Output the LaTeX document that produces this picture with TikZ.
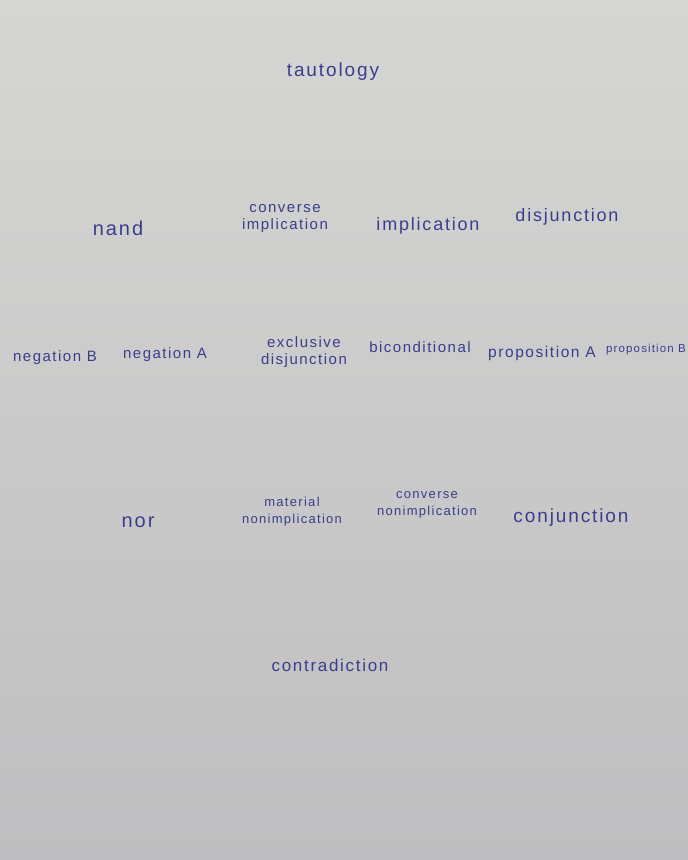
\documentclass[tikz,border=0pt]{standalone}
\usepackage{fontspec}
\setmainfont{Liberation Sans}[LetterSpace=10]
\definecolor{ink}{RGB}{58,62,140}
\definecolor{paperA}{RGB}{214,214,212}
\definecolor{paperB}{RGB}{190,190,192}
\begin{document}
\begin{tikzpicture}[x=1pt,y=-1pt,
  word/.style={text=ink,font=\fontsize{18}{18}\selectfont,inner sep=0pt},
  pair/.style={text=ink,font=\fontsize{15}{17}\selectfont,inner sep=0pt,align=center}]
\shade[top color=paperA,bottom color=paperB] (0,0) rectangle (688,860);
\useasboundingbox (0,0) rectangle (688,860);
\node[word,font=\fontsize{19}{19}\selectfont] (taut) at (333,72) {tautology};
\node[word,font=\fontsize{20}{20}\selectfont] (nand) at (118,228) {nand};
\node[pair] (cimp) at (285,219) {converse\\implication};
\node[word] (imp) at (428,226) {implication};
\node[word] (disj) at (567,217) {disjunction};
\node[word,font=\fontsize{15}{15}\selectfont] (negB) at (55,358) {negation B};
\node[word,font=\fontsize{15}{15}\selectfont] (negA) at (165,355) {negation A};
\node[pair] (xor) at (304,352) {exclusive\\disjunction};
\node[word,font=\fontsize{15}{15}\selectfont] (bic) at (420,347) {biconditional};
\node[word,font=\fontsize{15.5}{15.5}\selectfont] (propA) at (542,353) {proposition A};
\node[word,font=\fontsize{11.5}{11.5}\selectfont] (propB) at (646,350) {proposition B};
\node[word,font=\fontsize{20}{20}\selectfont] (nor) at (138,522) {nor};
\node[pair,font=\fontsize{13}{17}\selectfont] (mnimp) at (292,512) {material\\nonimplication};
\node[pair,font=\fontsize{13}{17}\selectfont] (cnimp) at (427,505) {converse\\nonimplication};
\node[word,font=\fontsize{19}{19}\selectfont] (conj) at (571,518) {conjunction};
\node[word,font=\fontsize{17}{17}\selectfont] (contr) at (330,665) {contradiction};
\end{tikzpicture}
\end{document}
